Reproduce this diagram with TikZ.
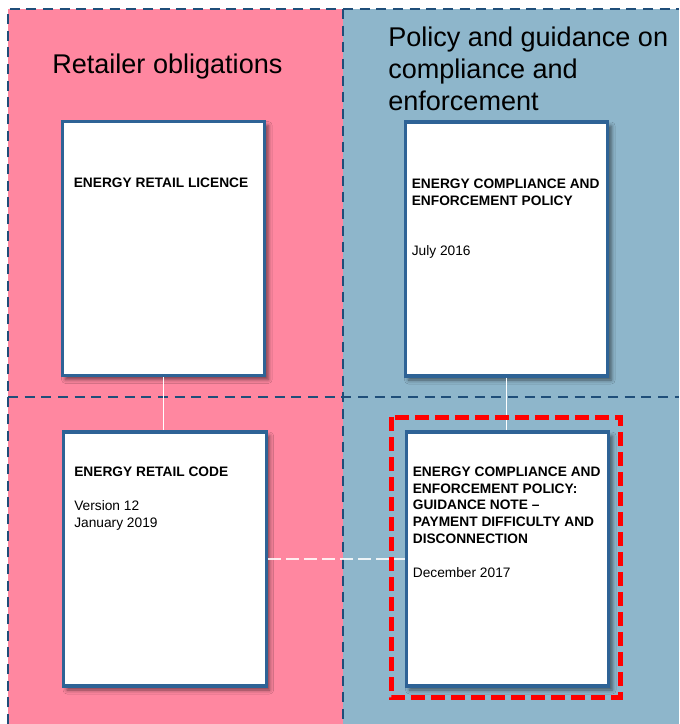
\documentclass[tikz,border=0pt]{standalone}
\usepackage{fontspec}
\setmainfont{Liberation Sans}
\usetikzlibrary{shadows.blur}

\definecolor{retailpink}{RGB}{255,135,160}
\definecolor{policyblue}{RGB}{142,182,203}
\definecolor{gridblue}{RGB}{31,78,121}
\definecolor{docblue}{RGB}{46,99,150}

\tikzset{
	doc/.style={draw=docblue,line width=2.4pt,fill=white,inner sep=0pt,
		minimum width=152pt,minimum height=190.5pt,
		blur shadow={shadow xshift=2.5pt,shadow yshift=-3pt,shadow blur radius=3pt,shadow opacity=55}},
	doctext/.style={anchor=north west,inner sep=0pt,align=left,
		font=\fontsize{10.3}{12.6}\selectfont\bfseries},
	heading/.style={inner sep=0pt,align=left,font=\fontsize{20.3}{24}\selectfont},
	gridline/.style={draw=gridblue,line width=1.8pt,dash pattern=on 7.5pt off 5pt},
	link/.style={draw=white,line width=1.2pt},
}

\begin{document}
\begin{tikzpicture}[x=0.75pt,y=-0.75pt]
	\useasboundingbox (0,0) rectangle (679,724);
	
	%BACKGROUND
	\fill[retailpink] (8,9) rectangle (343,724);
	\fill[policyblue] (343,9) rectangle (679,724);
	\draw[gridline] (8,724)--(8,9)--(679,9);	%outer edge
	\draw[gridline] (343,9)--(343,724);	%columns
	\draw[gridline] (8,397)--(679,397);	%rows
	
	%HEADINGS
	\node[heading,anchor=base west] (retailer) at (52,74) {Retailer obligations};
	\node[heading,anchor=north west] (policy) at (388,27) {Policy and guidance on\\compliance and\\enforcement};
	
	%DOCUMENTS
	\node[doc] (licence) at (163.5,248.5) {};
	\node[doc] (policydoc) at (506.5,249) {};
	\node[doc] (code) at (165,559) {};
	\node[doc] (note) at (507.5,559) {};
	
	%LINKS
	\draw[link] (licence.south)--(licence.south |- code.north);
	\draw[link] (policydoc.south)--(policydoc.south |- note.north);
	\draw[link,opacity=0.85,dash pattern=on 9.5pt off 4pt] (code.east)--(note.west);
	
	%TEXTS
	\node[doctext] (licencetext) at ([shift={(13,58)}]licence.north west) {ENERGY RETAIL LICENCE};
	\node[doctext] (policytext) at ([shift={(8,58)}]policydoc.north west) {ENERGY COMPLIANCE AND\\ENFORCEMENT POLICY\\[25pt]\mdseries July 2016};
	\node[doctext] (codetext) at ([shift={(12,36)}]code.north west) {ENERGY RETAIL CODE\\[12.9pt]\mdseries Version 12\\\mdseries January 2019};
	\node[doctext] (notetext) at ([shift={(8,36)}]note.north west) {ENERGY COMPLIANCE AND\\ENFORCEMENT POLICY:\\GUIDANCE NOTE --\\PAYMENT DIFFICULTY AND\\DISCONNECTION\\[12.9pt]\mdseries December 2017};
	
	%HIGHLIGHT
	\draw[red,line width=3.75pt,dash pattern=on 10.5pt off 4.5pt] (391,417) rectangle (620,697);
\end{tikzpicture}
\end{document}
